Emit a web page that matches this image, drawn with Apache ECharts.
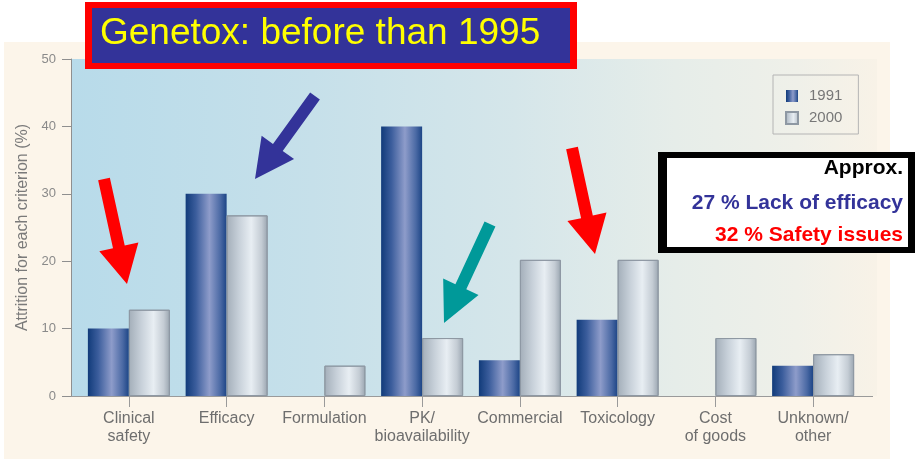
<!DOCTYPE html>
<html>
<head>
<meta charset="utf-8">
<title>Attrition by criterion, 1991 vs 2000</title>
<script src="https://cdn.jsdelivr.net/npm/echarts@6/dist/echarts.min.js"></script>
<style>
  html, body { margin: 0; padding: 0; background: #ffffff; }
  #chart { width: 916px; height: 459px; }
</style>
</head>
<body>
<div id="chart"></div>
<script>
// Reasons for attrition in drug development (% of failures per criterion)
const categories = ['Clinical\nsafety', 'Efficacy', 'Formulation', 'PK/\nbioavailability',
                    'Commercial', 'Toxicology', 'Cost\nof goods', 'Unknown/\nother'];
const values1991 = [10, 30, 0, 40, 5.3, 11.3, 0, 4.5];
const values2000 = [12.8, 26.8, 4.5, 8.6, 20.2, 20.2, 8.6, 6.2];
const seriesNames = ['1991', '2000'];
const yTicks = { min: 0, max: 50, step: 10 };

const FONT = '"Liberation Sans", Arial, Helvetica, sans-serif';
const chart = echarts.init(document.getElementById('chart'), null, { renderer: 'canvas' });

const grad = (stops) => new echarts.graphic.LinearGradient(0, 0, 1, 0,
  stops.map(([offset, color]) => ({ offset, color })));

const navyFill = grad([[0, '#113b7a'], [0.25, '#3b5d9c'], [0.58, '#8e9cca'], [0.85, '#4a69a4'], [1, '#1d4586']]);
const silverFill = grad([[0, '#a3aeb9'], [0.3, '#c7d0d9'], [0.6, '#e8eef3'], [0.85, '#c4ccd4'], [1, '#9aa5b0']]);

// arrow polygon from tail to tip
function arrow(tail, tip, shaftW, headW, headL, color) {
  const dx = tip[0] - tail[0], dy = tip[1] - tail[1];
  const len = Math.hypot(dx, dy);
  const ux = dx / len, uy = dy / len;
  const nx = -uy, ny = ux;
  const bx = tip[0] - ux * headL, by = tip[1] - uy * headL;
  const p = (x, y, s) => [x + nx * s, y + ny * s];
  return {
    type: 'polygon', z: 20,
    shape: { points: [
      p(tail[0], tail[1], shaftW / 2), p(bx, by, shaftW / 2), p(bx, by, headW / 2),
      tip,
      p(bx, by, -headW / 2), p(bx, by, -shaftW / 2), p(tail[0], tail[1], -shaftW / 2)
    ] },
    style: { fill: color }
  };
}

const option = {
  backgroundColor: '#ffffff',
  animation: false,
  textStyle: { fontFamily: FONT },
  grid: { left: 80, right: 54, top: 59, bottom: 63 },
  legend: {
    data: seriesNames,
    orient: 'vertical',
    left: 773, top: 75,
    itemWidth: 12, itemHeight: 12, itemGap: 6,
    padding: [13, 16, 8, 12],
    borderColor: '#b4b4b4', borderWidth: 1,
    icon: 'rect',
    textStyle: { fontSize: 15, color: '#777777', lineHeight: 16, fontFamily: FONT, padding: [0, 0, 0, 6] }
  },
  xAxis: {
    type: 'category',
    data: categories,
    axisLine: { show: false },
    axisTick: { show: true, alignWithLabel: true, length: 11, lineStyle: { color: '#9a9a9a' } },
    axisLabel: { interval: 0, margin: 14, fontSize: 16, lineHeight: 18, color: '#6e6e6e', fontFamily: FONT }
  },
  yAxis: {
    type: 'value',
    min: yTicks.min, max: yTicks.max, interval: yTicks.step,
    offset: 9,
    name: 'Attrition for each criterion (%)',
    nameLocation: 'middle', nameRotate: 90, nameGap: 32,
    nameTextStyle: { fontSize: 16, color: '#7a7a7a', fontFamily: FONT },
    axisLine: { show: true, lineStyle: { color: '#8f8f8f' } },
    axisTick: { show: true, length: 9, lineStyle: { color: '#8f8f8f' } },
    axisLabel: { margin: 15, fontSize: 13, color: '#8a8a8a', fontFamily: FONT },
    splitLine: { show: false }
  },
  series: [
    {
      name: seriesNames[0], type: 'bar', data: values1991,
      barWidth: 41, barGap: '0%',
      itemStyle: { color: navyFill, borderWidth: 0 }
    },
    {
      name: seriesNames[1], type: 'bar', data: values2000,
      barWidth: 41, barGap: '0%',
      itemStyle: { color: silverFill, borderColor: '#8e98a3', borderWidth: 1 }
    }
  ]
};

chart.setOption(option);

// baseline position from the value scale
const yZero = chart.convertToPixel({ yAxisIndex: 0 }, 0);
const yTop = chart.convertToPixel({ yAxisIndex: 0 }, yTicks.max);

chart.setOption({
  graphic: [
    // cream panel behind the figure
    { type: 'rect', z: -20, shape: { x: 4, y: 42, width: 886, height: 417 }, style: { fill: '#fcf5ea' } },
    // plot panel with a blue-to-cream wash
    { type: 'rect', z: -10, shape: { x: 71, y: yTop, width: 806, height: yZero - yTop },
      style: { fill: new echarts.graphic.LinearGradient(0, 0, 1, 0, [
        { offset: 0, color: '#b8dbea' }, { offset: 0.3, color: '#c6e0ea' },
        { offset: 0.55, color: '#d5e6ea' }, { offset: 0.75, color: '#e6ede9' },
        { offset: 0.9, color: '#eff0e9' }, { offset: 1, color: '#f8f2e7' }]) } },
    // x baseline
    { type: 'line', z: 5, shape: { x1: 71, y1: yZero + 0.5, x2: 873, y2: yZero + 0.5 },
      style: { stroke: '#9a9a9a', lineWidth: 1 } },

    // title banner
    { type: 'rect', z: 30, shape: { x: 85, y: 2, width: 492, height: 67 }, style: { fill: '#ff0000' } },
    { type: 'rect', z: 31, shape: { x: 92, y: 8, width: 478, height: 55 }, style: { fill: '#333399' } },
    { type: 'text', z: 32, x: 100, y: 34,
      style: { text: 'Genetox: before than 1995', fill: '#ffff00', font: '37px ' + FONT,
               textAlign: 'left', textVerticalAlign: 'middle' } },

    // summary box
    { type: 'rect', z: 30, shape: { x: 658, y: 152, width: 257, height: 101 }, style: { fill: '#000000' } },
    { type: 'rect', z: 31, shape: { x: 667, y: 158, width: 241, height: 89 }, style: { fill: '#ffffff' } },
    { type: 'text', z: 32, x: 903, y: 168,
      style: { text: 'Approx.', fill: '#000000', font: 'bold 21px ' + FONT, textAlign: 'right', textVerticalAlign: 'middle' } },
    { type: 'text', z: 32, x: 903, y: 203,
      style: { text: '27 % Lack of efficacy', fill: '#333399', font: 'bold 21px ' + FONT, textAlign: 'right', textVerticalAlign: 'middle' } },
    { type: 'text', z: 32, x: 903, y: 235,
      style: { text: '32 % Safety issues', fill: '#ff0000', font: 'bold 21px ' + FONT, textAlign: 'right', textVerticalAlign: 'middle' } },

    // pointer arrows
    arrow([104, 179], [127, 284], 12, 40, 38, '#ff0000'),
    arrow([315, 96], [255, 179], 12, 40, 39, '#333399'),
    arrow([490, 224], [444, 323], 12, 39, 40, '#009999'),
    arrow([572, 148], [595, 254], 12, 40, 38, '#ff0000')
  ]
});
</script>
</body>
</html>
